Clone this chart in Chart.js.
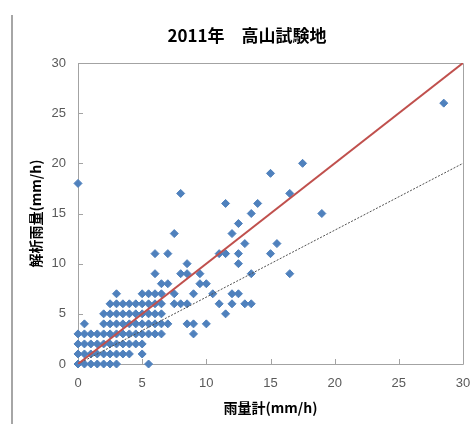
<!DOCTYPE html>
<html>
<head>
<meta charset="utf-8">
<script src="https://cdn.jsdelivr.net/npm/chart.js@4/dist/chart.umd.min.js"></script>
<style>
  html, body { margin: 0; padding: 0; background: #fff; }
  #wrap { position: relative; width: 470px; height: 424px; }
</style>
</head>
<body>
<div id="wrap"><canvas id="c" width="470" height="424"></canvas></div>
<script>
// ---- data ----
const chartTitle = "2011年　高山試験地";
const xAxisTitle = "雨量計(mm/h)";
const yAxisTitle = "解析雨量(mm/h)";
const tickValues = [0, 5, 10, 15, 20, 25, 30];

// rain gauge (x) and analysed rainfall (y), one entry per point
const gaugeX = [
  0, 0.5, 1, 1.5, 2, 2.5, 3, 5.5,
  0, 0.5, 1, 1.5, 2, 2.5, 3, 3.5, 4, 5,
  0, 0.5, 1, 1.5, 2, 2.5, 3, 3.5, 4, 4.5, 5,
  0, 0.5, 1, 1.5, 2, 2.5, 3, 3.5, 4, 4.5, 5, 5.5, 6, 6.5, 9,
  0.5, 2, 2.5, 3, 3.5, 4, 4.5, 5, 5.5, 6, 6.5, 7, 8.5, 9, 10,
  2, 2.5, 3, 3.5, 4, 4.5, 5, 5.5, 6, 6.5, 11.5,
  2.5, 3, 3.5, 4, 4.5, 5, 5.5, 6, 6.5, 7.5, 8, 8.5, 11, 12, 13, 13.5,
  3, 5, 5.5, 6, 6.5, 7.5, 9, 10.5, 12, 12.5,
  6.5, 7, 9.5, 10,
  6, 8, 8.5, 9.5, 13.5, 16.5,
  8.5, 12.5,
  6, 7, 11, 11.5, 12.5, 15,
  13, 15.5,
  7.5, 12,
  12.5,
  13.5, 19,
  11.5, 14,
  8, 16.5,
  0,
  15,
  17.5,
  28.5
];
const analysisY = [
  0, 0, 0, 0, 0, 0, 0, 0,
  1, 1, 1, 1, 1, 1, 1, 1, 1, 1,
  2, 2, 2, 2, 2, 2, 2, 2, 2, 2, 2,
  3, 3, 3, 3, 3, 3, 3, 3, 3, 3, 3, 3, 3, 3, 3,
  4, 4, 4, 4, 4, 4, 4, 4, 4, 4, 4, 4, 4, 4, 4,
  5, 5, 5, 5, 5, 5, 5, 5, 5, 5, 5,
  6, 6, 6, 6, 6, 6, 6, 6, 6, 6, 6, 6, 6, 6, 6, 6,
  7, 7, 7, 7, 7, 7, 7, 7, 7, 7,
  8, 8, 8, 8,
  9, 9, 9, 9, 9, 9,
  10, 10,
  11, 11, 11, 11, 11, 11,
  12, 12,
  13, 13,
  14,
  15, 15,
  16, 16,
  17, 17,
  18,
  19,
  20,
  26
];

// reference lines
const lineX = [0, 30];
const oneToOneY = [0, 30];
const twoThirdsY = [0, 20];

// ---- build ----
const toPts = (xs, ys) => xs.map((x, i) => ({ x: x, y: ys[i] }));

const PLOT = { left: 78, right: 463, top: 63, bottom: 364 };
const AXIS_COLOR = '#a3a3a3';

const framePlugin = {
  id: 'frame',
  beforeDraw(chart) {
    const ctx = chart.ctx;
    ctx.save();
    ctx.fillStyle = '#ffffff';
    ctx.fillRect(0, 0, chart.width, chart.height);
    // outer frame edge on the left
    ctx.fillStyle = '#a6a6a6';
    ctx.fillRect(11, 15, 2, chart.height - 15);
    // chart title
    ctx.fillStyle = '#000000';
    ctx.font = 'bold 17px "Noto Sans CJK JP"';
    ctx.textAlign = 'center';
    ctx.textBaseline = 'middle';
    ctx.fillText(chartTitle, 247, 36);
    ctx.restore();
  },
  beforeDatasetsDraw(chart) {
    const ctx = chart.ctx;
    const a = chart.chartArea;
    const xs = chart.scales.x, ys = chart.scales.y;
    ctx.save();
    ctx.strokeStyle = AXIS_COLOR;
    ctx.lineWidth = 1;
    ctx.beginPath();
    ctx.rect(Math.round(a.left) + 0.5, Math.round(a.top) + 0.5,
             Math.round(a.right - a.left), Math.round(a.bottom - a.top));
    ctx.stroke();
    ctx.beginPath();
    tickValues.forEach(v => {
      const px = Math.round(xs.getPixelForValue(v)) + 0.5;
      ctx.moveTo(px, a.bottom);
      ctx.lineTo(px, a.bottom - 5);
      const py = Math.round(ys.getPixelForValue(v)) + 0.5;
      ctx.moveTo(a.left, py);
      ctx.lineTo(a.left + 5, py);
    });
    ctx.stroke();
    ctx.restore();
  }
};

const tickFont = { family: '"Liberation Sans", Arial, sans-serif', size: 13 };
const titleFont = { family: '"Noto Sans CJK JP", sans-serif', size: 14, weight: 'bold' };

new Chart(document.getElementById('c'), {
  type: 'scatter',
  data: {
    datasets: [
      {
        label: '1:1',
        data: toPts(lineX, oneToOneY),
        showLine: true,
        borderColor: '#c0504d',
        borderWidth: 2,
        pointRadius: 0,
        order: 0
      },
      {
        label: '2/3',
        data: toPts(lineX, twoThirdsY),
        showLine: true,
        borderColor: '#505050',
        borderWidth: 1,
        borderDash: [2, 1.5],
        pointRadius: 0,
        order: 0
      },
      {
        label: 'data',
        data: toPts(gaugeX, analysisY),
        pointStyle: 'rectRot',
        pointRadius: 4,
        pointBorderWidth: 1,
        backgroundColor: '#4f81bd',
        borderColor: '#4f81bd',
        clip: false,
        order: 1
      }
    ]
  },
  options: {
    responsive: false,
    animation: false,
    devicePixelRatio: 1,
    layout: { padding: { left: 0, right: 470 - PLOT.right, top: PLOT.top, bottom: 0 } },
    plugins: { legend: { display: false }, tooltip: { enabled: false }, title: { display: false } },
    scales: {
      x: {
        type: 'linear',
        min: 0, max: 30,
        afterBuildTicks(scale) { scale.ticks = tickValues.map(v => ({ value: v })); },
        afterFit(scale) {
          scale.height = 424 - PLOT.bottom;
          scale.paddingLeft = 0; scale.paddingRight = 0;
        },
        grid: { display: false, drawTicks: false },
        border: { display: false },
        ticks: { padding: 12, color: '#595959', font: tickFont, maxRotation: 0 },
        title: { display: true, text: xAxisTitle, color: '#000', font: titleFont, padding: { top: 0, bottom: 8 } }
      },
      y: {
        type: 'linear',
        min: 0, max: 30,
        afterBuildTicks(scale) { scale.ticks = tickValues.map(v => ({ value: v })); },
        afterFit(scale) {
          scale.width = PLOT.left;
          scale.paddingTop = 0; scale.paddingBottom = 0;
        },
        grid: { display: false, drawTicks: false },
        border: { display: false },
        ticks: { padding: 12, color: '#595959', font: tickFont },
        title: { display: true, text: yAxisTitle, color: '#000', font: titleFont, padding: { top: 27, bottom: 0 } }
      }
    }
  },
  plugins: [framePlugin]
});
</script>
</body>
</html>
